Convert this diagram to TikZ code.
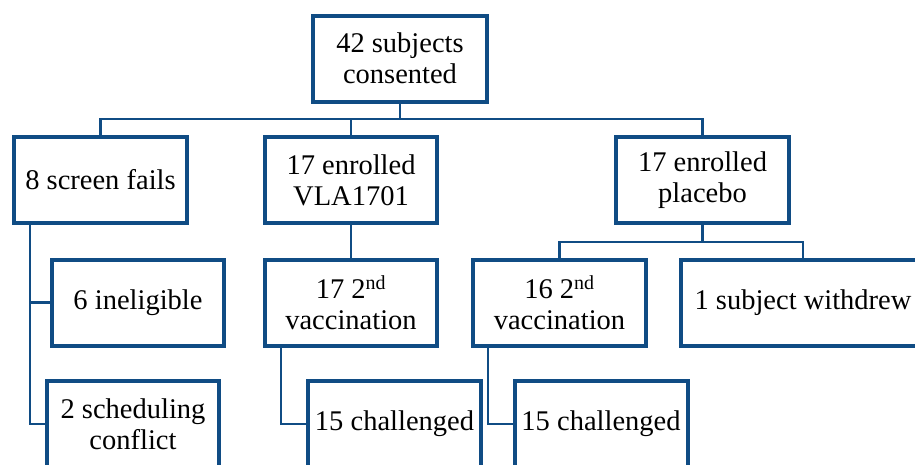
\documentclass[tikz,border=0pt]{standalone}
\usepackage{fontspec}
\setmainfont{Liberation Serif}
\usepackage{tikz}
\usetikzlibrary{calc}

\definecolor{boxblue}{RGB}{16,76,132}

\begin{document}
\begin{tikzpicture}[line join=miter,x=1pt,y=-1pt,
  box/.style={draw=boxblue,line width=4pt,fill=white,minimum width=172pt,minimum height=86pt,
    align=center,inner sep=1pt,font=\fontsize{28.5}{31}\selectfont},
  link/.style={draw=boxblue,line width=2.6pt}]
\useasboundingbox (0,0) rectangle (915,464);
\clip (0,0) rectangle (915,464);

\coordinate (j1) at (400,119);
\coordinate (j2) at (702.5,242);

\node[box,minimum width=174pt] (top) at (400,58.5) {42 subjects\\consented};

\node[box,minimum width=173pt] (fails) at (100.5,180) {8 screen fails};
\node[box] (vla) at (351,180) {17 enrolled\\VLA1701};
\node[box,minimum width=173pt] (plac) at (702.5,180) {17 enrolled\\placebo};

\node[box] (inel) at (138,302.5) {6 ineligible};
\node[box] (sched) at (133,424) {2 scheduling\\conflict};
\node[box] (vac1) at (351,302.5) {17 2\textsuperscript{nd}\\vaccination};
\node[box,minimum width=173pt] (chal1) at (394.5,424) {15 challenged};
\node[box,minimum width=173pt] (vac2) at (559.5,302.5) {16 2\textsuperscript{nd}\\vaccination};
\node[box,minimum width=173pt] (chal2) at (601,424) {15 challenged};
\node[box,minimum width=244pt] (wd) at (803,302.5) {1 subject withdrew};

% first level
\draw[link] (top.south) -- (j1);
\draw[link] (fails.north) -- (fails.north |- j1) -- (plac.north |- j1) -- (plac.north);
\draw[link] (vla.north) -- (vla.north |- j1);

% screen fails
\coordinate (f0) at ($(fails.south west)+(18,0)$);
\draw[link] (f0) |- (inel.west);
\draw[link] (f0) |- (sched.west);

% VLA1701 arm
\draw[link] (vla.south) -- (vac1.north);
\draw[link] ($(vac1.south west)+(18,0)$) |- (chal1.west);

% placebo arm
\draw[link] (plac.south) -- (j2);
\draw[link] (vac2.north) -- (vac2.north |- j2) -- (wd.north |- j2) -- (wd.north);
\draw[link] ($(vac2.south west)+(17,0)$) |- (chal2.west);
\end{tikzpicture}
\end{document}
